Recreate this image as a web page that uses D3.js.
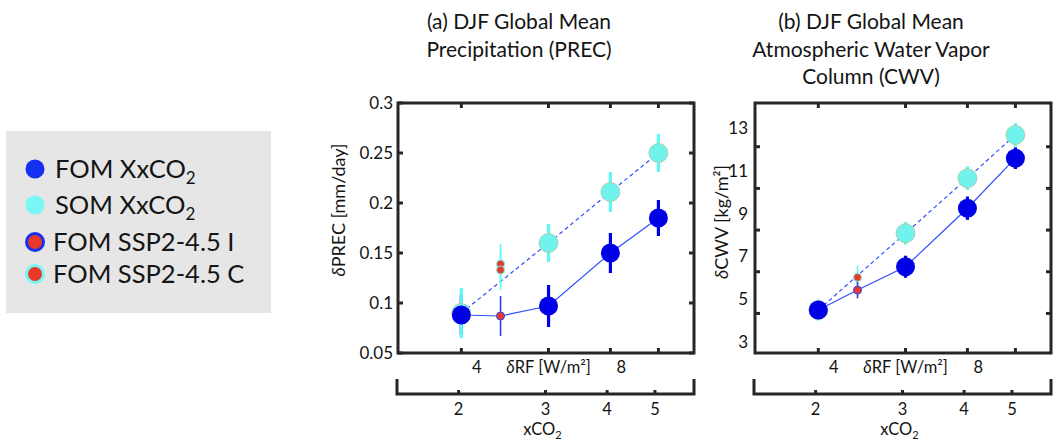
<!DOCTYPE html>
<meta charset="utf-8" />
<style>
  body { margin: 0; background: #fff; }
  text { font-family: Lato, "Open Sans", sans-serif; fill: #141414; }
</style>
<body>
<script src="https://d3js.org/d3.v7.min.js"></script>
<script>
// CO2 multiples of the runs, and where the SSP2-4.5 runs sit
var xco2 = [2, 3, 4, 5];
var sspX = 2.4;

// (a) precipitation change [mm/day]
var precFom = [0.088, 0.097, 0.150, 0.185];
var precFomErr = [0.020, 0.021, 0.020, 0.018];
var precSom = [0.090, 0.160, 0.211, 0.250];
var precSomErr = [0.025, 0.019, 0.020, 0.019];
var precSspI = [0.087];
var precSspIErr = [0.020];
var precSspC = [0.139, 0.133];
var precSspCErr = [0.020, 0.020];
var precTicks = [0.05, 0.1, 0.15, 0.2, 0.25, 0.3];

// (b) water vapour column change [kg/m2]
var cwvFom = [4.16, 6.24, 9.05, 11.45];
var cwvFomErr = [0.45, 0.53, 0.56, 0.52];
var cwvSom = [4.16, 7.85, 10.49, 12.57];
var cwvSomErr = [0.50, 0.54, 0.57, 0.56];
var cwvSspI = [5.12];
var cwvSspIErr = [0.40];
var cwvSspC = [5.73];
var cwvSspCErr = [0.56];
var cwvTicks = [4, 6, 8, 10, 12];
var cwvTickLabels = [3, 5, 7, 9, 11, 13];

// secondary axis: forcing labels and the xCO2 they line up with
var rfLabels = ['4', '8'];
var rfAtXco2 = [2.15, 4.21];

var legendNames = ['FOM XxCO', 'SOM XxCO', 'FOM SSP2-4.5 I', 'FOM SSP2-4.5 C'];

var blue = '#0000e6', cyan = '#6ff3ec', cyanBar = '#5ff8f8', red = '#e8392b', lineBlue = '#3050ff';

var svg = d3.select('body').append('svg')
  .attr('width', 1055).attr('height', 444);

// legend
var leg = svg.append('g');
leg.append('rect').attr('x', 6).attr('y', 131).attr('width', 265).attr('height', 182)
  .attr('fill', '#e6e6e6');
var legRow = [169, 205, 242, 274];
legendNames.forEach(function(name, i) {
  var g = leg.append('g').attr('transform', 'translate(0,' + legRow[i] + ')');
  if (i < 2) {
    g.append('circle').attr('cx', 35).attr('r', 9.5).attr('fill', i == 0 ? '#1530f0' : '#79f7f4');
  } else {
    g.append('circle').attr('cx', 35).attr('r', 10).attr('fill', i == 2 ? '#1530f0' : '#79f7f4');
    g.append('circle').attr('cx', 35).attr('r', 7).attr('fill', red);
  }
  var t = g.append('text').attr('x', i < 2 ? 55 : 53).attr('y', 9)
    .style('font-size', '25.5px').text(name);
  if (i < 2) t.append('tspan').attr('dy', 6).style('font-size', '17px').text('2');
});

function drawPanel(p) {
  var x = d3.scaleLog().domain([1.49, 5.9]).range([p.left, p.left + 296]);
  var xb = d3.scaleLog().domain([1.5, 6]).range([p.left - 1, p.left + 296]);
  var y = d3.scaleLinear().domain(p.yDomain).range([353, 103]);
  var g = svg.append('g');

  // error bars
  function bars(vals, errs, xs, color, w) {
    g.selectAll(null).data(vals).enter().append('line')
      .attr('x1', function(d, i) { return x(xs[i]); })
      .attr('x2', function(d, i) { return x(xs[i]); })
      .attr('y1', function(d, i) { return y(d - errs[i]); })
      .attr('y2', function(d, i) { return y(d + errs[i]); })
      .attr('stroke', color).attr('stroke-width', w);
  }
  bars(p.fom, p.fomErr, xco2, blue, 3.2);
  bars(p.som, p.somErr, xco2, cyanBar, 3.2);

  var line = d3.line().x(function(d) { return x(d[0]); }).y(function(d) { return y(d[1]); });
  var fomPts = xco2.map(function(c, i) { return [c, p.fom[i]]; });
  fomPts.splice(1, 0, [sspX, p.sspI[0]]);
  g.append('path').attr('d', line(fomPts)).attr('fill', 'none')
    .attr('stroke', lineBlue).attr('stroke-width', 1.2);
  g.append('path').attr('d', line(xco2.map(function(c, i) { return [c, p.som[i]]; })))
    .attr('fill', 'none').attr('stroke', lineBlue).attr('stroke-width', 1.2)
    .attr('stroke-dasharray', '4,3');

  g.selectAll(null).data(p.som).enter().append('circle')
    .attr('cx', function(d, i) { return x(xco2[i]); }).attr('cy', y).attr('r', 9.5)
    .attr('fill', cyan).attr('stroke', '#b5c49a').attr('stroke-width', 0.8);
  g.selectAll(null).data(p.fom).enter().append('circle')
    .attr('cx', function(d, i) { return x(xco2[i]); }).attr('cy', y).attr('r', 9.5)
    .attr('fill', blue);

  // SSP2-4.5 runs
  var sspXs = [sspX, sspX];
  bars(p.sspC, p.sspCErr, sspXs, cyanBar, 1.6);
  bars(p.sspI, p.sspIErr, sspXs, '#2a3cf0', 1.6);
  g.selectAll(null).data(p.sspC).enter().append('circle')
    .attr('cx', x(sspX)).attr('cy', y).attr('r', 4)
    .attr('fill', red).attr('stroke', cyan).attr('stroke-width', 1);
  g.selectAll(null).data(p.sspI).enter().append('circle')
    .attr('cx', x(sspX)).attr('cy', y).attr('r', 4)
    .attr('fill', red).attr('stroke', '#3040f0').attr('stroke-width', 1);

  // box and ticks
  var ax = '#262626';
  g.append('rect').attr('x', x.range()[0]).attr('y', 103)
    .attr('width', x.range()[1] - x.range()[0]).attr('height', 250)
    .attr('fill', 'none').attr('stroke', ax).attr('stroke-width', 3);
  xco2.forEach(function(c) {
    g.append('line').attr('x1', x(c)).attr('x2', x(c)).attr('y1', 103).attr('y2', 108)
      .attr('stroke', ax).attr('stroke-width', 3);
    g.append('line').attr('x1', x(c)).attr('x2', x(c)).attr('y1', 353).attr('y2', 348)
      .attr('stroke', ax).attr('stroke-width', 3);
  });
  p.ticks.forEach(function(v) {
    [[x.range()[0], 5], [x.range()[1], -5]].forEach(function(s) {
      g.append('line').attr('x1', s[0]).attr('x2', s[0] + s[1])
        .attr('y1', y(v)).attr('y2', y(v)).attr('stroke', ax).attr('stroke-width', 3);
    });
  });
  var labY = p.labScale || y;
  g.selectAll(null).data(p.tickLabels).enter().append('text')
    .attr('x', x.range()[0] - p.labGap).attr('y', function(d) { return labY(d) + 6; })
    .attr('text-anchor', 'end').style('font-size', '17px').text(function(d) { return d; });

  var yl = g.append('text').attr('transform', 'translate(' + p.ylabX + ',' + p.ylabY + ') rotate(-90)')
    .attr('text-anchor', 'middle').style('font-size', '18px');
  yl.append('tspan').style('font-style', 'italic').text('δ');
  yl.append('tspan').text(p.ylab);

  // forcing labels under the box
  g.selectAll(null).data(rfLabels).enter().append('text')
    .attr('x', function(d, i) { return x(rfAtXco2[i]); }).attr('y', 373)
    .attr('text-anchor', 'middle').style('font-size', '16.5px').text(function(d) { return d; });
  var rf = g.append('text').attr('x', x(3)).attr('y', 373).attr('text-anchor', 'middle')
    .style('font-size', '16.5px');
  rf.append('tspan').style('font-style', 'italic').text('δ');
  rf.append('tspan').text('RF [W/m²]');

  // bracket axis for xCO2
  var r = xb.range();
  g.append('path').attr('d', 'M' + r[0] + ',379V394H' + r[1] + 'V379')
    .attr('fill', 'none').attr('stroke', ax).attr('stroke-width', 3);
  xco2.forEach(function(c) {
    g.append('line').attr('x1', xb(c)).attr('x2', xb(c)).attr('y1', 394).attr('y2', 390)
      .attr('stroke', ax).attr('stroke-width', 3);
  });
  g.selectAll(null).data(xco2).enter().append('text')
    .attr('x', xb).attr('y', 415).attr('text-anchor', 'middle')
    .style('font-size', '16.5px').text(function(d) { return d; });
  var xl = g.append('text').attr('x', xb(3) - 3).attr('y', 435).attr('text-anchor', 'middle')
    .style('font-size', '16.5px').text('xCO');
  xl.append('tspan').attr('dy', 4).style('font-size', '11px').text('2');

  // title
  var tt = g.append('text').attr('text-anchor', 'middle').style('font-size', '21px');
  p.title.forEach(function(s, i) {
    tt.append('tspan').attr('x', p.titleX).attr('y', 29 + i * 27.5).text(s);
  });
}

drawPanel({
  left: 398, yDomain: [0.05, 0.3],
  fom: precFom, fomErr: precFomErr, som: precSom, somErr: precSomErr,
  sspI: precSspI, sspIErr: precSspIErr, sspC: precSspC, sspCErr: precSspCErr,
  ticks: precTicks, tickLabels: precTicks, labGap: 5,
  ylab: 'PREC [mm/day]', ylabX: 345, ylabY: 210,
  title: ['(a) DJF Global Mean', 'Precipitation (PREC)'], titleX: 519
});

drawPanel({
  left: 755, yDomain: [2.1, 14.1],
  fom: cwvFom, fomErr: cwvFomErr, som: cwvSom, somErr: cwvSomErr,
  sspI: cwvSspI, sspIErr: cwvSspIErr, sspC: cwvSspC, sspCErr: cwvSspCErr,
  ticks: cwvTicks, tickLabels: cwvTickLabels, labGap: 7,
  // the printed labels sit a little off the tick marks in the original
  labScale: d3.scaleLinear().domain([3, 13]).range([342, 128]),
  ylab: 'CWV [kg/m²]', ylabX: 728, ylabY: 222,
  title: ['(b) DJF Global Mean', 'Atmospheric Water Vapor', 'Column (CWV)'], titleX: 871
});
</script>
</body>
